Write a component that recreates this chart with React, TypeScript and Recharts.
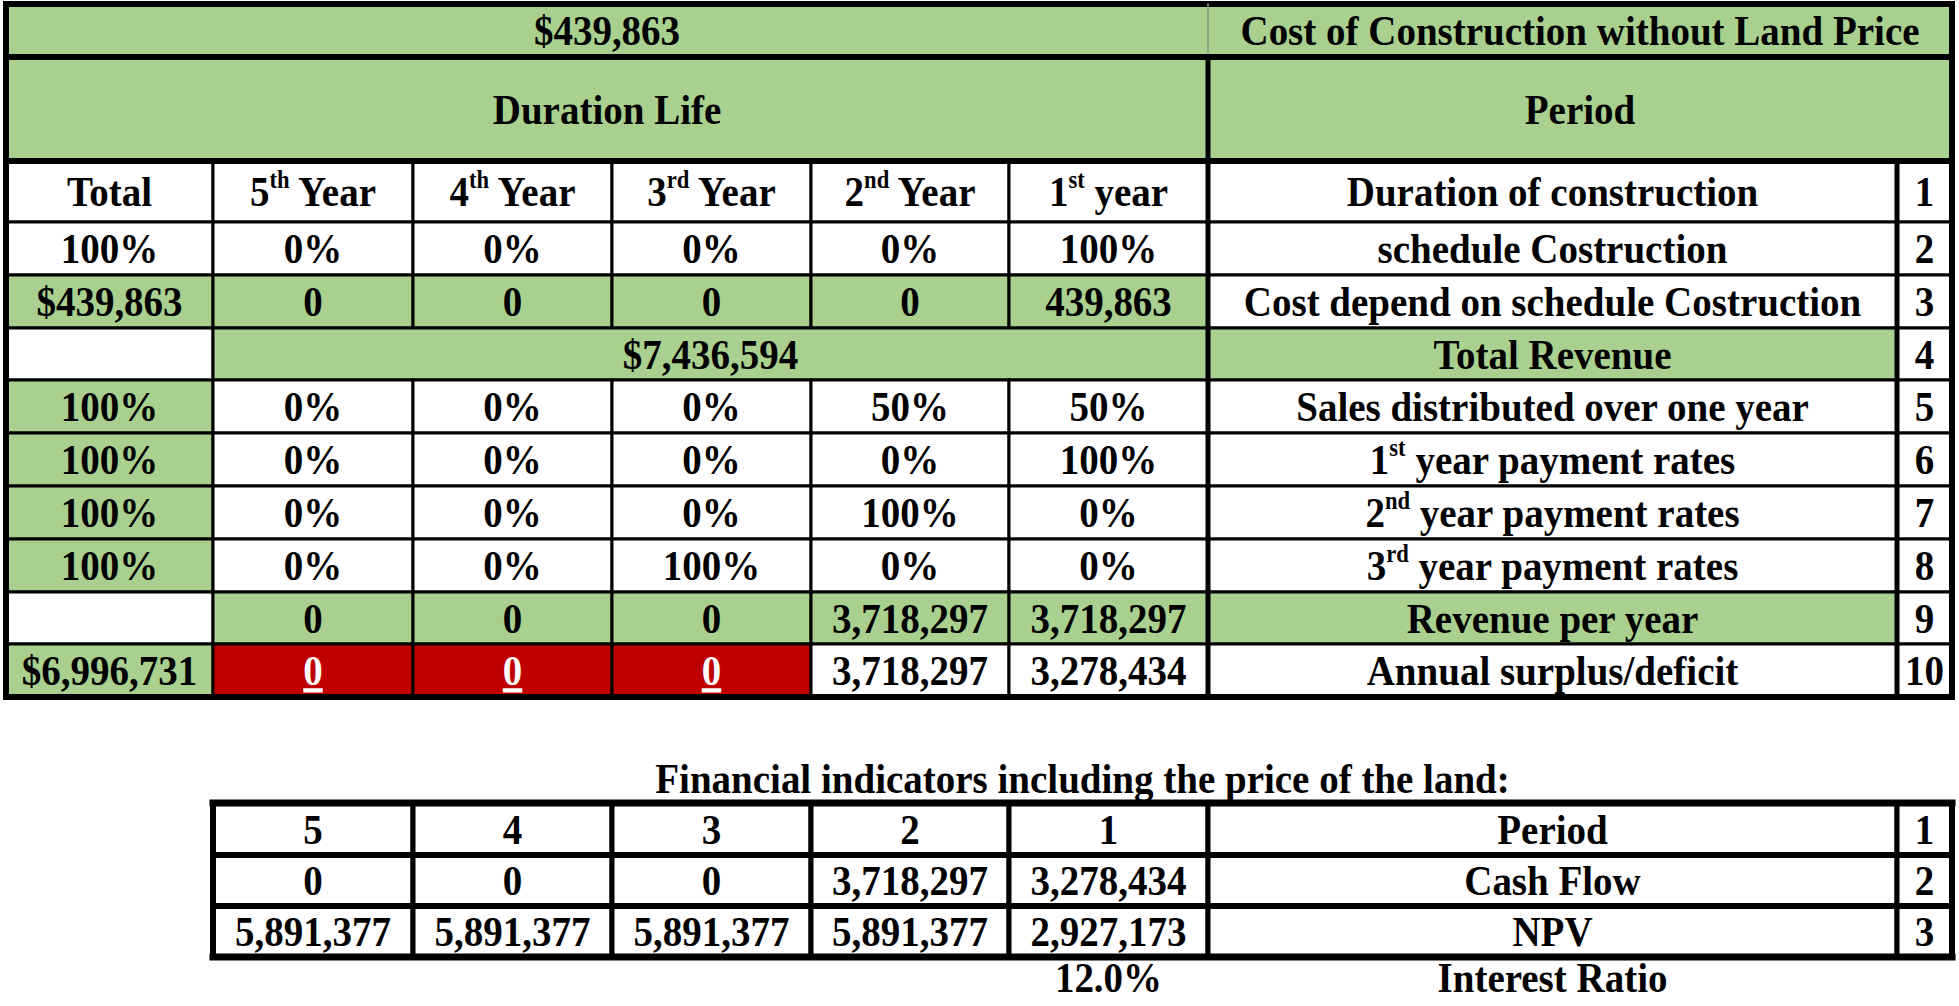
import React from "react";
import { ComposedChart, XAxis, YAxis, ReferenceArea, ReferenceLine } from "recharts";

const W = 1959;
const H = 1006;
const GREEN = "#a9d08e";
const RED = "#c00000";
const FONT = "'Liberation Serif', 'Times New Roman', serif";
const FS = 39;
const STRETCH = 1.1;

// ---- values ----
const TOTAL_COST = "$439,863";
const COST_TITLE = "Cost of Construction without Land Price";
const LIFE_TITLE = "Duration Life";
const PERIOD_TITLE = "Period";

const COLUMNS = ["Total", "5^th Year", "4^th Year", "3^rd Year", "2^nd Year", "1^st year"];
const ROW_LABELS = [
  "Duration of construction",
  "schedule Costruction",
  "Cost depend on schedule Costruction",
  "Total Revenue",
  "Sales distributed over one year",
  "1^st year payment rates",
  "2^nd year payment rates",
  "3^rd year payment rates",
  "Revenue per year",
  "Annual surplus/deficit",
];
const SCHEDULE = ["100%", "0%", "0%", "0%", "0%", "100%"];
const COST = ["$439,863", "0", "0", "0", "0", "439,863"];
const TOTAL_REVENUE = "$7,436,594";
const SALES = ["100%", "0%", "0%", "0%", "50%", "50%"];
const PAY_1 = ["100%", "0%", "0%", "0%", "0%", "100%"];
const PAY_2 = ["100%", "0%", "0%", "0%", "100%", "0%"];
const PAY_3 = ["100%", "0%", "0%", "100%", "0%", "0%"];
const REVENUE = ["", "0", "0", "0", "3,718,297", "3,718,297"];
const SURPLUS = ["$6,996,731", "0", "0", "0", "3,718,297", "3,278,434"];

const FIN_TITLE = "Financial indicators including the price of the land:";
const PERIODS = ["5", "4", "3", "2", "1"];
const CASH_FLOW = ["0", "0", "0", "3,718,297", "3,278,434"];
const NPV = ["5,891,377", "5,891,377", "5,891,377", "5,891,377", "2,927,173"];
const FIN_LABELS = ["Period", "Cash Flow", "NPV"];
const INTEREST = "12.0%";
const INTEREST_LABEL = "Interest Ratio";

// ---- sheet layout (pixel grid) ----
const COL_X = [6, 213, 413, 612, 811, 1009, 1208, 1897, 1952];
const HEAD_Y = [4, 57, 161];
const ROW_Y = [161, 222, 275, 328, 380, 433, 486, 539, 592, 644, 697];
const FIN_Y = [803, 855, 906, 957];

type Cell = {
  x1: number;
  x2: number;
  y1: number;
  y2: number;
  text: string;
  fill?: string;
  color?: string;
  underline?: boolean;
  stroke?: string;
  sw?: number;
};

const cells: Cell[] = [];
const add = (c: Cell) => cells.push(c);

// header band
add({ x1: COL_X[0], x2: COL_X[6], y1: HEAD_Y[0], y2: HEAD_Y[1], text: TOTAL_COST, fill: GREEN, stroke: "none" });
add({ x1: COL_X[6], x2: COL_X[8], y1: HEAD_Y[0], y2: HEAD_Y[1], text: COST_TITLE, fill: GREEN, stroke: "none" });
add({ x1: COL_X[0], x2: COL_X[6], y1: HEAD_Y[1], y2: HEAD_Y[2], text: LIFE_TITLE, fill: GREEN, stroke: "none" });
add({ x1: COL_X[6], x2: COL_X[8], y1: HEAD_Y[1], y2: HEAD_Y[2], text: PERIOD_TITLE, fill: GREEN, stroke: "none" });

const rowValues: (string[] | null)[] = [COLUMNS, SCHEDULE, COST, null, SALES, PAY_1, PAY_2, PAY_3, REVENUE, SURPLUS];
const greenLabel = [false, false, false, true, false, false, false, false, true, false];

rowValues.forEach((vals, r) => {
  const y1 = ROW_Y[r];
  const y2 = ROW_Y[r + 1];
  if (vals === null) {
    add({ x1: COL_X[0], x2: COL_X[1], y1, y2, text: "", fill: "#fff" });
    add({ x1: COL_X[1], x2: COL_X[6], y1, y2, text: TOTAL_REVENUE, fill: GREEN });
  } else {
    vals.forEach((v, c) => {
      let fill = "#fff";
      let color = "#000";
      let underline = false;
      if (r === 2) fill = GREEN;
      else if (r === 8) fill = c === 0 ? "#fff" : GREEN;
      else if (r >= 4 && c === 0) fill = GREEN;
      if (r === 9 && c > 0 && v === "0") {
        fill = RED;
        color = "#fff";
        underline = true;
      }
      add({ x1: COL_X[c], x2: COL_X[c + 1], y1, y2, text: v, fill, color, underline });
    });
  }
  add({ x1: COL_X[6], x2: COL_X[7], y1, y2, text: ROW_LABELS[r], fill: greenLabel[r] ? GREEN : "#fff" });
  add({ x1: COL_X[7], x2: COL_X[8], y1, y2, text: String(r + 1), fill: "#fff" });
});

// financial indicators table
[PERIODS, CASH_FLOW, NPV].forEach((vals, r) => {
  const y1 = FIN_Y[r];
  const y2 = FIN_Y[r + 1];
  vals.forEach((v, c) => {
    add({ x1: COL_X[c + 1], x2: COL_X[c + 2], y1, y2, text: v, fill: "#fff", sw: 5 });
  });
  add({ x1: COL_X[6], x2: COL_X[7], y1, y2, text: FIN_LABELS[r], fill: "#fff", sw: 5 });
  add({ x1: COL_X[7], x2: COL_X[8], y1, y2, text: String(r + 1), fill: "#fff", sw: 5 });
});

// free text (no fill)
add({ x1: COL_X[1], x2: COL_X[8], y1: 760, y2: 796, text: FIN_TITLE, stroke: "none" });
add({ x1: COL_X[5], x2: COL_X[6], y1: FIN_Y[3], y2: 998, text: INTEREST, stroke: "none" });
add({ x1: COL_X[6], x2: COL_X[7], y1: FIN_Y[3], y2: 998, text: INTEREST_LABEL, stroke: "none" });

const cellShape = (c: Cell) => (p: any) => {
  const { x, y, width, height } = p;
  const m = c.text.match(/^([^\^]*)\^(\w+)(.*)$/);
  const cx = x + width / 2;
  const cy = y + height / 2;
  return (
    <g>
      <rect
        x={x}
        y={y}
        width={width}
        height={height}
        fill={c.fill ?? "none"}
        stroke={c.stroke ?? "#000"}
        strokeWidth={c.sw ?? 3}
      />
      {c.text ? (
        <text
          transform={`translate(${cx},${cy}) scale(1,${STRETCH})`}
          x={0}
          y={0}
          dy="0.34em"
          textAnchor="middle"
          fontFamily={FONT}
          fontWeight="bold"
          fontSize={FS}
          fill={c.color ?? "#000"}
          textDecoration={c.underline ? "underline" : undefined}
        >
          {m ? (
            <>
              <tspan>{m[1]}</tspan>
              <tspan dy={-FS * 0.42} fontSize={FS * 0.58}>
                {m[2]}
              </tspan>
              <tspan dy={FS * 0.42}>{m[3]}</tspan>
            </>
          ) : (
            c.text
          )}
        </text>
      ) : null}
    </g>
  );
};

type Seg = { x1: number; y1: number; x2: number; y2: number; w: number; color?: string };
const lines: Seg[] = [
  // outer frame of the upper table
  { x1: COL_X[0], y1: HEAD_Y[0], x2: COL_X[8], y2: HEAD_Y[0], w: 6 },
  { x1: COL_X[0], y1: ROW_Y[10], x2: COL_X[8], y2: ROW_Y[10], w: 6 },
  { x1: COL_X[0], y1: HEAD_Y[0], x2: COL_X[0], y2: ROW_Y[10], w: 6 },
  { x1: COL_X[8], y1: HEAD_Y[0], x2: COL_X[8], y2: ROW_Y[10], w: 6 },
  { x1: COL_X[0], y1: HEAD_Y[1], x2: COL_X[8], y2: HEAD_Y[1], w: 6 },
  { x1: COL_X[0], y1: HEAD_Y[2], x2: COL_X[8], y2: HEAD_Y[2], w: 6 },
  { x1: COL_X[6], y1: HEAD_Y[0], x2: COL_X[6], y2: HEAD_Y[1], w: 1.5, color: "#8a9a80" },
  { x1: COL_X[6], y1: HEAD_Y[1], x2: COL_X[6], y2: ROW_Y[10], w: 5 },
  { x1: COL_X[7], y1: ROW_Y[0], x2: COL_X[7], y2: ROW_Y[10], w: 5 },
  // outer frame of the lower table
  { x1: COL_X[1], y1: FIN_Y[0], x2: COL_X[8], y2: FIN_Y[0], w: 7 },
  { x1: COL_X[1], y1: FIN_Y[3], x2: COL_X[8], y2: FIN_Y[3], w: 7 },
  { x1: COL_X[1], y1: FIN_Y[1], x2: COL_X[8], y2: FIN_Y[1], w: 6 },
  { x1: COL_X[1], y1: FIN_Y[2], x2: COL_X[8], y2: FIN_Y[2], w: 6 },
  { x1: COL_X[1], y1: FIN_Y[0], x2: COL_X[1], y2: FIN_Y[3], w: 6 },
  { x1: COL_X[8], y1: FIN_Y[0], x2: COL_X[8], y2: FIN_Y[3], w: 6 },
];

export default function App() {
  return (
    <div style={{ position: "absolute", left: 0, top: 0, width: W, height: H, background: "#fff" }}>
      <ComposedChart width={W} height={H} data={[]} margin={{ top: 0, right: 0, bottom: 0, left: 0 }}>
        <XAxis type="number" dataKey="x" domain={[0, W]} hide allowDataOverflow />
        <YAxis type="number" dataKey="y" domain={[0, H]} reversed hide allowDataOverflow />
        {cells.map((c, i) => (
          <ReferenceArea
            key={`c${i}`}
            x1={c.x1}
            x2={c.x2}
            y1={c.y1}
            y2={c.y2}
            ifOverflow="visible"
            fillOpacity={1}
            shape={cellShape(c)}
          />
        ))}
        {lines.map((l, i) => (
          <ReferenceLine
            key={`l${i}`}
            segment={[
              { x: l.x1, y: l.y1 },
              { x: l.x2, y: l.y2 },
            ]}
            stroke={l.color ?? "#000"}
            strokeWidth={l.w}
            strokeLinecap="square"
            ifOverflow="visible"
          />
        ))}
      </ComposedChart>
    </div>
  );
}
